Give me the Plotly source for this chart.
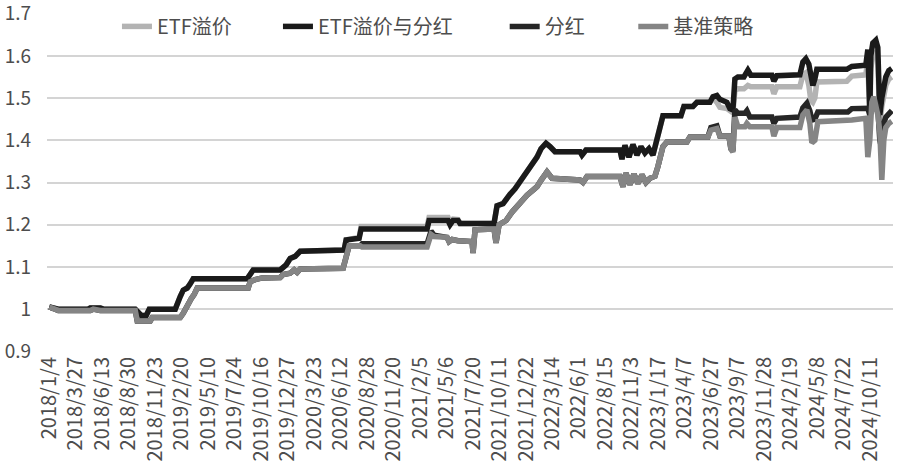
import plotly.graph_objects as go

# ---- tick labels (category axis: trading-day index, one label every 53 days)
tick_labels = ["2018/1/4", "2018/3/27", "2018/6/13", "2018/8/30", "2018/11/23", "2019/2/20",
               "2019/5/10", "2019/7/24", "2019/10/16", "2019/12/27", "2020/3/23", "2020/6/12",
               "2020/8/28", "2020/11/20", "2021/2/5", "2021/5/6", "2021/7/20", "2021/10/11",
               "2021/12/22", "2022/3/14", "2022/6/1", "2022/8/15", "2022/11/3", "2023/1/17",
               "2023/4/7", "2023/6/27", "2023/9/7", "2023/11/28", "2024/2/19", "2024/5/8",
               "2024/7/22", "2024/10/11"]
tick_step = 53
y_ticks = [0.9, 1.0, 1.1, 1.2, 1.3, 1.4, 1.5, 1.6, 1.7]
y_ticktext = ["0.9", "1", "1.1", "1.2", "1.3", "1.4", "1.5", "1.6", "1.7"]

# ---- upper pair: ETF溢价与分红 (black) and ETF溢价 (light gray), trading-day index
x_upper = [0, 12, 18, 78, 82, 102, 108, 172, 178, 184, 194, 200, 252, 256, 262, 268, 276, 282, 288,
           396, 402, 408, 462, 468, 474, 482, 492, 502, 590, 594, 620, 624, 756, 760, 798, 802, 808,
           818, 822, 890, 896, 908, 916, 922, 932, 942, 956, 968, 976, 984, 994, 1002, 1012, 1062,
           1066, 1074, 1142, 1146, 1152, 1160, 1168, 1176, 1184, 1192, 1200, 1208, 1216, 1222, 1228,
           1264, 1270, 1288, 1296, 1322, 1328, 1336, 1342, 1356, 1362, 1368, 1372, 1378, 1390, 1398,
           1404, 1446, 1450, 1456, 1502, 1508, 1514, 1520, 1524, 1528, 1532, 1536, 1596, 1606, 1634,
           1638, 1642, 1644, 1648, 1654, 1658, 1662, 1666, 1670, 1674, 1680, 1686]
etf_div = [1.005, 1.003, 1.0, 1.0, 1.003, 1.003, 1.0, 1.0, 0.99, 0.985, 0.985, 1.0, 1.0, 1.015, 1.03,
           1.045, 1.05, 1.06, 1.072, 1.072, 1.085, 1.093, 1.093, 1.10, 1.105, 1.12, 1.125, 1.137, 1.14,
           1.164, 1.168, 1.19, 1.19, 1.21, 1.21, 1.2, 1.21, 1.21, 1.203, 1.203, 1.245, 1.25, 1.26,
           1.272, 1.285, 1.302, 1.33, 1.35, 1.36, 1.38, 1.393, 1.385, 1.373, 1.373, 1.365, 1.377,
           1.377, 1.355, 1.388, 1.36, 1.39, 1.365, 1.385, 1.37, 1.38, 1.365, 1.40, 1.432, 1.458,
           1.458, 1.48, 1.48, 1.49, 1.49, 1.503, 1.506, 1.497, 1.49, 1.475, 1.472, 1.545, 1.55,
           1.55, 1.566, 1.554, 1.554, 1.54, 1.553, 1.555, 1.585, 1.593, 1.58, 1.55, 1.53, 1.545,
           1.568, 1.568, 1.575, 1.578, 1.615, 1.47, 1.60, 1.63, 1.637, 1.62, 1.46, 1.50, 1.53, 1.55,
           1.565, 1.57]
etf_prem = [1.005, 1.003, 1.0, 1.0, 1.003, 1.003, 1.0, 1.0, 0.99, 0.985, 0.985, 1.0, 1.0, 1.015, 1.03,
            1.045, 1.05, 1.06, 1.072, 1.072, 1.085, 1.093, 1.093, 1.10, 1.105, 1.12, 1.125, 1.137, 1.14,
            1.164, 1.17, 1.196, 1.196, 1.217, 1.217, 1.205, 1.213, 1.212, 1.203, 1.203, 1.245, 1.25,
            1.26, 1.272, 1.285, 1.302, 1.33, 1.35, 1.36, 1.38, 1.393, 1.385, 1.373, 1.373, 1.365,
            1.377, 1.377, 1.355, 1.388, 1.36, 1.39, 1.365, 1.385, 1.37, 1.38, 1.365, 1.40, 1.432,
            1.458, 1.458, 1.48, 1.48, 1.49, 1.49, 1.50, 1.49, 1.478, 1.475, 1.468, 1.465, 1.518,
            1.522, 1.522, 1.53, 1.527, 1.527, 1.51, 1.527, 1.527, 1.555, 1.56, 1.53, 1.495, 1.49,
            1.50, 1.538, 1.54, 1.552, 1.555, 1.59, 1.45, 1.57, 1.60, 1.61, 1.59, 1.44, 1.48, 1.51,
            1.53, 1.545, 1.55]

# ---- lower pair: 分红 (black) and 基准策略 (gray)
x_lower = [0, 12, 18, 82, 88, 102, 172, 176, 202, 206, 262, 268, 272, 278, 284, 290, 296, 398, 402,
           412, 426, 462, 468, 482, 490, 496, 502, 588, 594, 600, 622, 626, 756, 760, 764, 770, 796,
           800, 806, 818, 846, 848, 852, 890, 894, 900, 914, 926, 936, 946, 956, 968, 976, 984, 996,
           1006, 1062, 1068, 1076, 1142, 1148, 1154, 1162, 1170, 1178, 1186, 1194, 1202, 1212, 1218,
           1228, 1236, 1276, 1282, 1318, 1324, 1336, 1342, 1360, 1364, 1368, 1372, 1378, 1392, 1396,
           1402, 1446, 1450, 1456, 1502, 1508, 1516, 1522, 1526, 1532, 1538, 1598, 1606, 1634, 1638,
           1642, 1646, 1650, 1654, 1658, 1662, 1666, 1670, 1674, 1680, 1686]
dividend = [1.005, 1.0, 0.997, 0.997, 1.0, 0.997, 0.997, 0.972, 0.972, 0.98, 0.98, 0.99, 1.0, 1.015,
            1.025, 1.035, 1.05, 1.05, 1.065, 1.07, 1.074, 1.075, 1.082, 1.085, 1.093, 1.087, 1.095,
            1.097, 1.13, 1.15, 1.15, 1.155, 1.155, 1.175, 1.185, 1.175, 1.17, 1.16, 1.165, 1.162,
            1.16, 1.133, 1.188, 1.19, 1.157, 1.2, 1.21, 1.23, 1.245, 1.26, 1.27, 1.282, 1.29, 1.305,
            1.325, 1.31, 1.306, 1.30, 1.314, 1.314, 1.29, 1.322, 1.295, 1.32, 1.298, 1.318, 1.30,
            1.31, 1.315, 1.338, 1.385, 1.396, 1.396, 1.408, 1.408, 1.43, 1.434, 1.41, 1.41, 1.38,
            1.375, 1.472, 1.464, 1.464, 1.47, 1.455, 1.455, 1.44, 1.452, 1.455, 1.477, 1.488, 1.47,
            1.448, 1.45, 1.467, 1.467, 1.475, 1.475, 1.476, 1.46, 1.47, 1.49, 1.49, 1.48, 1.40, 1.38,
            1.44, 1.455, 1.465, 1.47]
benchmark = [1.005, 1.0, 0.997, 0.997, 1.0, 0.997, 0.997, 0.972, 0.972, 0.98, 0.98, 0.99, 1.0, 1.015,
             1.025, 1.035, 1.05, 1.05, 1.065, 1.07, 1.074, 1.075, 1.082, 1.085, 1.093, 1.087, 1.095,
             1.097, 1.13, 1.15, 1.15, 1.147, 1.147, 1.17, 1.177, 1.172, 1.17, 1.16, 1.165, 1.162,
             1.16, 1.133, 1.188, 1.19, 1.157, 1.2, 1.21, 1.23, 1.245, 1.26, 1.27, 1.282, 1.29, 1.305,
             1.325, 1.31, 1.306, 1.30, 1.314, 1.314, 1.29, 1.322, 1.295, 1.32, 1.298, 1.318, 1.30,
             1.31, 1.315, 1.338, 1.385, 1.396, 1.396, 1.408, 1.408, 1.424, 1.428, 1.41, 1.41, 1.38,
             1.372, 1.455, 1.432, 1.432, 1.44, 1.432, 1.432, 1.41, 1.43, 1.43, 1.46, 1.472, 1.44,
             1.394, 1.40, 1.444, 1.446, 1.448, 1.452, 1.36, 1.40, 1.49, 1.503, 1.48, 1.46, 1.42,
             1.306, 1.40, 1.43, 1.44, 1.445]

font_family = "Noto Sans CJK SC"
text_color = "#4d4d4d"

fig = go.Figure()
series = [
    ("ETF溢价", x_upper, etf_prem, "#b3b3b3", "legend"),
    ("ETF溢价与分红", x_upper, etf_div, "#1a1a1a", "legend2"),
    ("分红", x_lower, dividend, "#262626", "legend3"),
    ("基准策略", x_lower, benchmark, "#858585", "legend4"),
]
for name, xs, ys, color, lg in series:
    fig.add_trace(go.Scatter(x=xs, y=ys, name=name, mode="lines",
                             line=dict(color=color, width=5.5), legend=lg))

legend_x = {"legend": 0.0827, "legend2": 0.273, "legend3": 0.541, "legend4": 0.693}
legend_common = dict(orientation="h", y=1.018, yanchor="top", xanchor="left",
                     bgcolor="rgba(0,0,0,0)", font=dict(family=font_family, size=20, color=text_color))

fig.update_layout(
    width=902, height=474,
    margin=dict(l=47, r=9, t=13, b=122, autoexpand=False),
    paper_bgcolor="white", plot_bgcolor="white",
    font=dict(family=font_family, color=text_color),
    showlegend=True,
    xaxis=dict(range=[-4.6, 1688.4], tickmode="array", automargin=False,
               tickvals=[i * tick_step for i in range(len(tick_labels))],
               ticktext=tick_labels, tickangle=-90, showgrid=False, zeroline=False,
               showline=False, ticks="", ticklabeloverflow="allow",
               tickfont=dict(size=20, color=text_color)),
    yaxis=dict(range=[0.8985, 1.7015], tickmode="array", tickvals=y_ticks, ticktext=y_ticktext,
               automargin=False, ticklabeloverflow="allow",
               showgrid=True, gridcolor="#d4d4d4", gridwidth=1.5, zeroline=False, showline=False,
               ticks="", ticklabelstandoff=15, tickfont=dict(size=19, color=text_color)),
    **{k: dict(legend_common, x=v) for k, v in legend_x.items()},
)

# remove the browser's default 8px page margin so the figure fills the window
fig.write_html("out.html", config={"displayModeBar": False},
               post_script="document.body.style.margin='0px';")
